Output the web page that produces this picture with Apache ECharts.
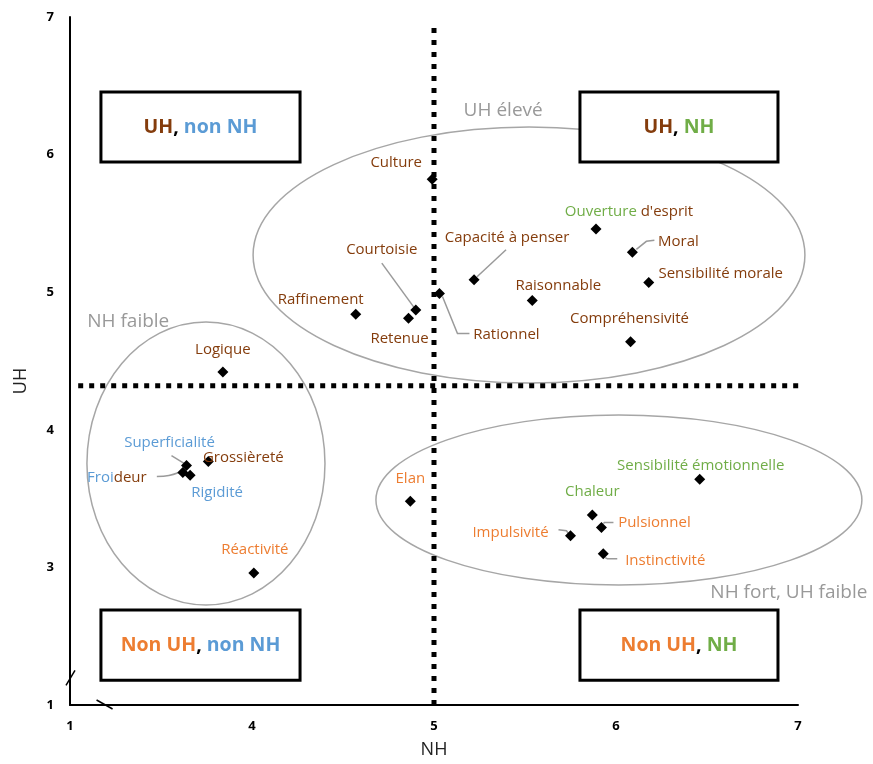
<!DOCTYPE html>
<html>
<head>
<meta charset="utf-8">
<script src="https://cdn.jsdelivr.net/npm/echarts@6/dist/echarts.min.js"></script>
<style>
html,body{margin:0;padding:0;background:#fff;}
#main{width:873px;height:764px;}
</style>
</head>
<body>
<div id="main"></div>
<script>
// ---------- DATA ----------
const categories = ['Culture','Capacité à penser',"Ouverture d'esprit",'Moral','Sensibilité morale','Raisonnable','Rationnel','Courtoisie','Retenue','Raffinement','Compréhensivité','Logique','Superficialité','Grossièreté','Froideur','Rigidité','Réactivité','Elan','Sensibilité émotionnelle','Chaleur','Pulsionnel','Impulsivité','Instinctivité'];
const nhValues = [4.99, 5.22, 5.89, 6.09, 6.18, 5.54, 5.03, 4.90, 4.86, 4.57, 6.08, 3.84, 3.64, 3.76, 3.62, 3.66, 4.01, 4.87, 6.46, 5.87, 5.92, 5.75, 5.93];
const uhValues = [5.82, 5.09, 5.46, 5.29, 5.07, 4.94, 4.99, 4.87, 4.81, 4.84, 4.64, 4.42, 3.74, 3.77, 3.69, 3.67, 2.96, 3.48, 3.64, 3.38, 3.29, 3.23, 3.10];
// semantic class of each label: UH, NH, nonUH, nonNH, or mixed
const labelClass = ['UH','UH','mixOuverture','UH','UH','UH','UH','UH','UH','UH','UH','UH','nonNH','UH','mixFroideur','nonNH','nonUH','nonUH','NH','NH','nonUH','nonUH','nonUH'];
const xTickLabels = {3:'1',4:'4',5:'5',6:'6',7:'7'};
const yTickLabels = {2:'1',3:'3',4:'4',5:'5',6:'6',7:'7'};
const nhDivider = 5;      // vertical dotted line
const uhDivider = 4.32;   // horizontal dotted line
const groupNames = ['UH élevé','NH faible','NH fort, UH faible'];
const quadrantNames = [['UH',', ','non NH'],['UH',', ','NH'],['Non UH',', ','non NH'],['Non UH',', ','NH']];

// ---------- STYLE / LAYOUT ----------
const COLORS = {UH:'#843C0C', NH:'#70AD47', nonUH:'#ED7D31', nonNH:'#5B9BD5', sep:'#000'};
const FONT = '"Open Sans", Lato, sans-serif';
// label offset from point (px)
const labelOffsets = [[-36,-17],[33,-42],[33,-17],[46,-11],[72,-9],[26,-15],[67,41],[-34,-60],[-9,20],[-35,-14],[-1,-23],[0,-22],[-17,-23],[35,-4],[-66,5],[27,18],[1,-23],[0,-23],[1,-14],[0,-23],[53,-5],[-60,-3],[62,7]];
// leader line points relative to point (px), null = no line
const leaderPts = [
  null, [[3,-3],[32,-30]], null, [[4,-3],[14,-11],[22,-12]], null, null,
  [[3,3],[18,40],[30,40]], [[-2,-3],[-34,-47]], null, null, null, null,
  [[-2,-2],[-15,-10]], null, [[-4,0],[-14,3],[-26,4]], null, null, null, null, null,
  [[2,-4],[3,-5],[12,-5]], [[-2,-2],[-4,-5],[-12,-6]], [[2,4],[4,5],[14,5]]
];

function labelText(i){
  const c = labelClass[i];
  if (c === 'mixOuverture') return '{NH|Ouverture}{UH| d\'esprit}';
  if (c === 'mixFroideur') return '{nonNH|Froi}{UH|deur}';
  return '{' + c + '|' + categories[i] + '}';
}
const richLabel = {};
Object.keys(COLORS).forEach(k => { richLabel[k] = {color: COLORS[k], fontSize: 15, fontFamily: FONT}; });

const pointData = categories.map((n, i) => ({name: n, value: [nhValues[i], uhValues[i]]}));

const chart = echarts.init(document.getElementById('main'));
const option = {
  animation: false,
  backgroundColor: '#fff',
  textStyle: {fontFamily: FONT},
  grid: {left: 70, right: 75, top: 17, bottom: 59},
  xAxis: {
    type: 'value', min: 3, max: 7, interval: 1,
    name: 'NH', nameLocation: 'middle', nameGap: 36,
    nameTextStyle: {fontSize: 18, color: '#222', fontFamily: FONT},
    axisLine: {lineStyle: {color: '#000', width: 2}},
    axisTick: {show: false}, splitLine: {show: false},
    axisLabel: {formatter: v => xTickLabels[v] || '', color: '#000', fontWeight: 'bold', fontSize: 13, margin: 15, fontFamily: FONT}
  },
  yAxis: {
    type: 'value', min: 2, max: 7, interval: 1,
    name: 'UH', nameLocation: 'middle', nameGap: 40, nameRotate: 90,
    nameTextStyle: {fontSize: 18, color: '#222', fontFamily: FONT, padding: [0, 40, 0, 0]},
    axisLine: {lineStyle: {color: '#000', width: 2}},
    axisTick: {show: false}, splitLine: {show: false},
    axisLabel: {formatter: v => yTickLabels[v] || '', color: '#000', fontWeight: 'bold', fontSize: 13, margin: 16, fontFamily: FONT}
  },
  series: [
    {
      type: 'line', data: [[nhDivider, 2], [nhDivider, 6.94]], symbol: 'none', clip: false, silent: true, z: 3,
      lineStyle: {color: '#000', width: 5, type: [5, 7]}
    },
    {
      type: 'line', data: [[3.045, uhDivider], [7.19, uhDivider]], symbol: 'none', clip: false, silent: true, z: 3,
      lineStyle: {color: '#000', width: 5, type: [5, 6]}
    },
    {
      type: 'scatter', data: pointData, symbol: 'diamond', symbolSize: 11, z: 5,
      itemStyle: {color: '#000', opacity: 1},
      label: {show: true, formatter: p => labelText(p.dataIndex), rich: richLabel, fontSize: 15},
      labelLayout: function (p) {
        const o = labelOffsets[p.dataIndex];
        const r = p.rect;
        return {x: r.x + r.width / 2 + o[0], y: r.y + r.height / 2 + o[1], align: 'center', verticalAlign: 'middle'};
      }
    }
  ]
};
chart.setOption(option);

// ---------- ANNOTATIONS (placed in data coordinates) ----------
const ellipses = [
  {c: [5.522, 5.27], r: [1.516, 0.93]},
  {c: [3.747, 3.755], r: [0.654, 1.028]},
  {c: [6.016, 3.49], r: [1.335, 0.618]}
];
const groupLabelPos = [[5.38, 6.32], [3.32, 4.79], [6.95, 2.82]];
const boxes = [
  {x: [3.17, 4.264], y: [6.455, 5.946]},
  {x: [5.802, 6.89], y: [6.455, 5.946]},
  {x: [3.17, 4.264], y: [2.69, 2.18]},
  {x: [5.802, 6.89], y: [2.69, 2.18]}
];
const quadrantColors = [['UH','sep','nonNH'],['UH','sep','NH'],['nonUH','sep','nonNH'],['nonUH','sep','NH']];

function px(p){ return chart.convertToPixel({gridIndex: 0}, p); }
const graphics = [];
ellipses.forEach(e => {
  const c = px(e.c);
  const ex = px([e.c[0] + e.r[0], e.c[1] + e.r[1]]);
  graphics.push({type: 'ellipse', z: 1, silent: true,
    shape: {cx: c[0], cy: c[1], rx: Math.abs(ex[0] - c[0]), ry: Math.abs(ex[1] - c[1])},
    style: {fill: 'none', stroke: '#a6a6a6', lineWidth: 1.5}});
});
// leader lines anchored on the data points
categories.forEach((n, i) => {
  if (!leaderPts[i]) return;
  const c = px([nhValues[i], uhValues[i]]);
  graphics.push({type: 'polyline', z: 4, silent: true,
    shape: {points: leaderPts[i].map(q => [c[0] + q[0], c[1] + q[1]]), smooth: i === 14 ? 0.4 : 0},
    style: {fill: 'none', stroke: '#9a9a9a', lineWidth: 1.5}});
});
groupNames.forEach((g, i) => {
  const p = px(groupLabelPos[i]);
  graphics.push({type: 'text', z: 6, x: p[0], y: p[1], silent: true,
    style: {text: g, fill: '#999', font: '19px ' + FONT, align: 'center', verticalAlign: 'middle'}});
});
const boxRich = {};
Object.keys(COLORS).forEach(k => { boxRich[k] = {fill: COLORS[k], fontSize: 19.5, fontWeight: 'bold', fontFamily: FONT}; });
boxes.forEach((b, i) => {
  const a = px([b.x[0], b.y[0]]), d = px([b.x[1], b.y[1]]);
  graphics.push({type: 'rect', z: 4, silent: true,
    shape: {x: a[0], y: a[1], width: d[0] - a[0], height: d[1] - a[1]},
    style: {fill: '#fff', stroke: '#000', lineWidth: 3}});
  const t = quadrantNames[i].map((s, j) => '{' + quadrantColors[i][j] + '|' + s + '}').join('');
  graphics.push({type: 'text', z: 6, silent: true, x: (a[0] + d[0]) / 2, y: (a[1] + d[1]) / 2,
    style: {text: t, rich: boxRich, align: 'center', verticalAlign: 'middle', font: 'bold 19.5px ' + FONT}});
});
// axis break marks
const yb = px([3, 2.2]);
graphics.push({type: 'line', z: 6, silent: true, shape: {x1: yb[0] - 4, y1: yb[1] + 8, x2: yb[0] + 5, y2: yb[1] - 7}, style: {stroke: '#000', lineWidth: 1.5}});
const xb = px([3.19, 2]);
graphics.push({type: 'line', z: 6, silent: true, shape: {x1: xb[0] - 8, y1: xb[1] - 5, x2: xb[0] + 8, y2: xb[1] + 4}, style: {stroke: '#000', lineWidth: 1.5}});

chart.setOption({graphic: graphics});
</script>
</body>
</html>
